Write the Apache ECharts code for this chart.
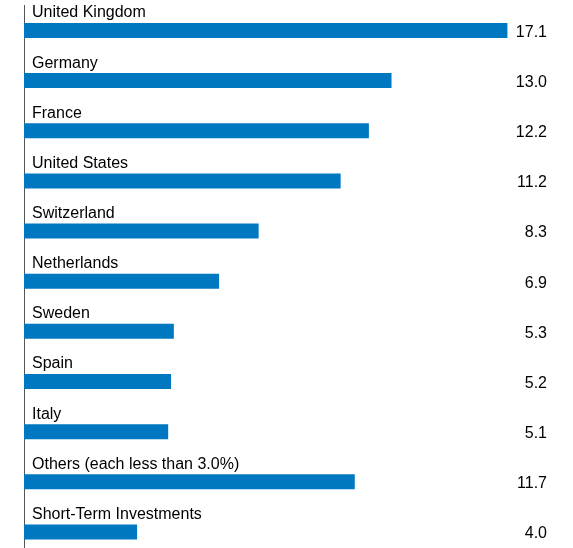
<!DOCTYPE html>
<html>
  <head>
    <meta charset="utf-8" />
    <title>Country allocation</title>
    <script src="https://cdn.jsdelivr.net/npm/echarts@6/dist/echarts.min.js"></script>
  </head>
  <body style="margin: 0">
    <div id="main" style="width: 573px; height: 548px"></div>
    <script type="text/javascript">
      var countries = [
        "United Kingdom",
        "Germany",
        "France",
        "United States",
        "Switzerland",
        "Netherlands",
        "Sweden",
        "Spain",
        "Italy",
        "Others (each less than 3.0%)",
        "Short-Term Investments",
      ];
      var weights = [17.1, 13.0, 12.2, 11.2, 8.3, 6.9, 5.3, 5.2, 5.1, 11.7, 4.0];
      var weightLabels = ["17.1", "13.0", "12.2", "11.2", "8.3", "6.9", "5.3", "5.2", "5.1", "11.7", "4.0"];

      var myChart = echarts.init(document.getElementById("main"));

      var font = "'Liberation Sans', Arial, sans-serif";

      var option = {
        animation: false,
        grid: {
          left: 24,
          right: 26,
          top: 5.4,
          height: 551.6,
          outerBoundsMode: "none",
        },
        xAxis: {
          type: "value",
          min: 0,
          max: 18.5,
          show: false,
        },
        yAxis: [
          {
            type: "category",
            inverse: true,
            data: countries,
            axisLine: { show: true, lineStyle: { color: "#555", width: 1 } },
            axisTick: { show: false },
            axisLabel: { show: false },
          },
          {
            type: "category",
            inverse: true,
            position: "right",
            data: weightLabels,
            axisLine: { show: false },
            axisTick: { show: false },
            axisLabel: {
              inside: true,
              margin: 0,
              align: "right",
              color: "#000",
              fontFamily: font,
              formatter: function (v) {
                return "{v|" + v + "}";
              },
              rich: {
                v: { fontSize: 16, fontFamily: font, color: "#000", padding: [4, 0, 0, 0] },
              },
            },
          },
        ],
        series: [
          {
            type: "bar",
            data: weights,
            barWidth: 15,
            itemStyle: { color: "#0078c1" },
            label: {
              show: true,
              formatter: "{b}",
              position: [8, -18],
              align: "left",
              verticalAlign: "top",
              color: "#000",
              fontSize: 16,
              fontFamily: font,
            },
          },
        ],
      };

      myChart.setOption(option);
    </script>
  </body>
</html>
